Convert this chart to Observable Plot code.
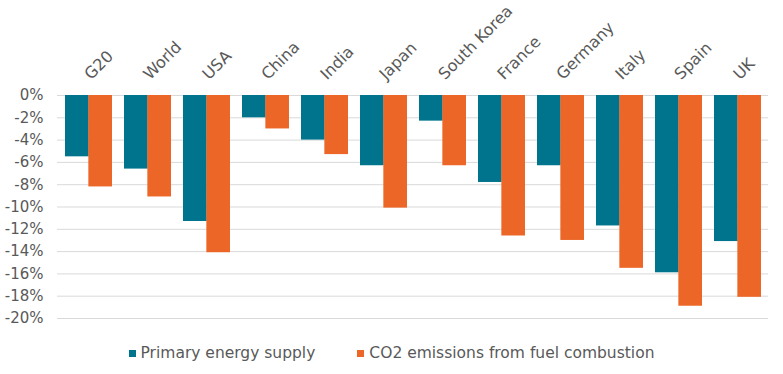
<!DOCTYPE html>
<html>
<head>
<meta charset="utf-8">
<script src="https://cdn.jsdelivr.net/npm/d3@7"></script>
<script src="https://cdn.jsdelivr.net/npm/@observablehq/plot@0.6"></script>
<style>
  html, body { margin: 0; padding: 0; background: #fff; }
  #chart { width: 783px; }
  .legend { display: flex; justify-content: center; align-items: center; height: 36px;
    font-family: "DejaVu Sans", Verdana, sans-serif; font-size: 15.5px; color: #595959; }
  .legend .item { display: flex; align-items: center; }
  .legend .item + .item { margin-left: 42px; }
  .legend .sw { width: 7px; height: 7px; margin-right: 5px; display: inline-block; }
</style>
</head>
<body>
<div id="chart"></div>
<script>
const countries = ["G20","World","USA","China","India","Japan","South Korea","France","Germany","Italy","Spain","UK"];
const energySupply = [-5.5,-6.6,-11.3,-2.0,-4.0,-6.3,-2.3,-7.8,-6.3,-11.7,-15.9,-13.1];
const co2Emissions = [-8.2,-9.1,-14.1,-3.0,-5.3,-10.1,-6.3,-12.6,-13.0,-15.5,-18.9,-18.1];
const seriesNames = ["Primary energy supply","CO2 emissions from fuel combustion"];
const seriesColors = ["#00748C","#EB6627"];
const yTicks = [0,-2,-4,-6,-8,-10,-12,-14,-16,-18,-20];

const W = 783, H = 335, mL = 57, mR = 15, mT = 95, mB = 17;
const padIn = 0.21, padOut = 0.12;
const step = (W - mL - mR) / (countries.length - padIn + 2 * padOut);
const half = step * (1 - padIn) / 2;

const rows = countries.map((c, i) => ({country: c, energy: energySupply[i], co2: co2Emissions[i]}));
const textColor = "#595959";

const chart = Plot.plot({
  width: W, height: H,
  marginLeft: mL, marginRight: mR, marginTop: mT, marginBottom: mB,
  style: {fontFamily: "\"DejaVu Sans\", Verdana, sans-serif", fontSize: "15px", color: textColor, background: "#fff"},
  x: {type: "band", domain: countries, paddingInner: padIn, paddingOuter: padOut, axis: null},
  y: {domain: [-20, 0], ticks: yTicks, tickFormat: d => `${d}%`, tickSize: 0, tickPadding: 14, label: null},
  marks: [
    Plot.ruleY(yTicks, {stroke: "#d9d9d9", strokeWidth: 1}),
    Plot.barY(rows, {x: "country", y1: 0, y2: "energy", fill: seriesColors[0], insetRight: half}),
    Plot.barY(rows, {x: "country", y1: 0, y2: "co2", fill: seriesColors[1], insetLeft: half}),
    Plot.text(countries, {x: d => d, frameAnchor: "top", dx: 2, dy: -15, rotate: -45, textAnchor: "start", lineAnchor: "bottom", fill: textColor, fontSize: 16})
  ]
});
document.getElementById("chart").appendChild(chart);

const legend = document.createElement("div");
legend.className = "legend";
seriesNames.forEach((name, i) => {
  const item = document.createElement("span");
  item.className = "item";
  const sw = document.createElement("span");
  sw.className = "sw";
  sw.style.background = seriesColors[i];
  item.appendChild(sw);
  item.appendChild(document.createTextNode(name));
  legend.appendChild(item);
});
document.getElementById("chart").appendChild(legend);
</script>
</body>
</html>
